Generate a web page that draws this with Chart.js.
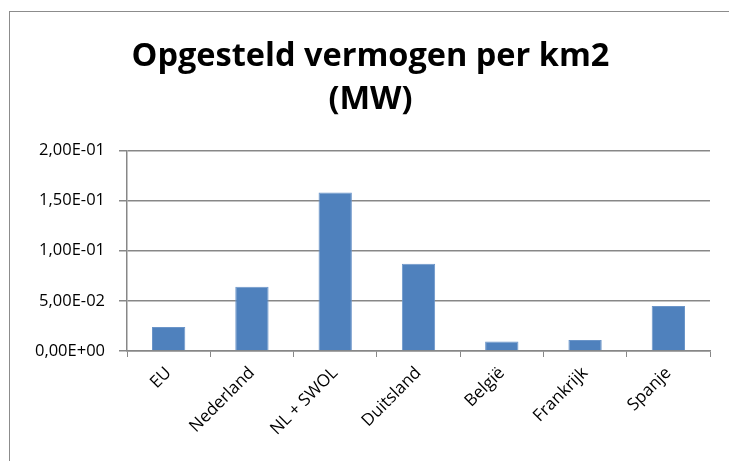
<!DOCTYPE html>
<html>
<head>
<meta charset="utf-8">
<script src="https://cdn.jsdelivr.net/npm/chart.js@4"></script>
<style>
    html, body { margin: 0; padding: 0; background: #ffffff; overflow: hidden; }
    #wrap { position: relative; width: 729px; height: 461px; }
    #frame {
        position: absolute; left: 9px; top: 11px; right: 0; bottom: -10px;
        border-left: 1px solid #8c8c8c; border-top: 1px solid #8c8c8c;
    }
    canvas { position: absolute; left: 0; top: 0; }
</style>
</head>
<body>
<div id="wrap">
    <div id="frame"></div>
    <canvas id="chart" width="729" height="461"></canvas>
</div>
<script>

//
// data
//

const categories = ["EU", "Nederland", "NL + SWOL", "Duitsland", "België", "Frankrijk", "Spanje"];
const vermogen = [0.024, 0.064, 0.158, 0.087, 0.0095, 0.011, 0.045];
const titleLines = ["Opgesteld vermogen per km2", "(MW)"];

const FONT = "'Open Sans', sans-serif";

// 0.15 -> "1,50E-01"
function excelSci(value) {
    const [mant, exp] = Number(value).toExponential(2).split("e");
    const e = parseInt(exp, 10);
    const sign = e < 0 ? "-" : "+";
    return mant.replace(".", ",") + "E" + sign + String(Math.abs(e)).padStart(2, "0");
}

const ctx = document.getElementById("chart");

new Chart(ctx, {
    type: "bar",

    data: {
        labels: categories,
        datasets: [{
            data: vermogen,
            backgroundColor: "#4f81bd",
            borderColor: "#6b95c9",
            borderWidth: 1,
            categoryPercentage: 1,
            barPercentage: 0.4
        }]
    },

    options: {
        responsive: false,
        animation: false,

        // left/right padding keep the title centred on the framed area
        layout: {
            padding: { left: 31, right: 19, top: 0, bottom: 0 }
        },

        scales: {
            x: {
                grid: {
                    offset: true,
                    drawOnChartArea: false,
                    drawTicks: true,
                    tickLength: 6,
                    color: "#878787"
                },
                border: { color: "#878787", width: 1.5 },
                ticks: {
                    color: "#000",
                    font: { family: FONT, size: 17 },
                    maxRotation: 45,
                    minRotation: 45,
                    padding: 6
                },
                afterFit(scale) {
                    scale.height = 110;
                }
            },
            y: {
                min: 0,
                max: 0.2,
                grid: {
                    color: "#878787",
                    lineWidth: 1.5,
                    tickLength: 8
                },
                border: { color: "#878787", width: 1.5 },
                ticks: {
                    stepSize: 0.05,
                    color: "#000",
                    font: { family: FONT, size: 16.5 },
                    padding: 14,
                    callback: value => excelSci(value)
                },
                afterFit(scale) {
                    scale.width = 96;
                }
            }
        },

        plugins: {
            legend: { display: false },
            tooltip: { enabled: false },
            title: {
                display: true,
                text: titleLines,
                color: "#000",
                font: { family: FONT, size: 32.5, weight: "bold", lineHeight: 1.3 },
                padding: { top: 36, bottom: 30 }
            }
        }
    }
});
</script>
</body>
</html>
